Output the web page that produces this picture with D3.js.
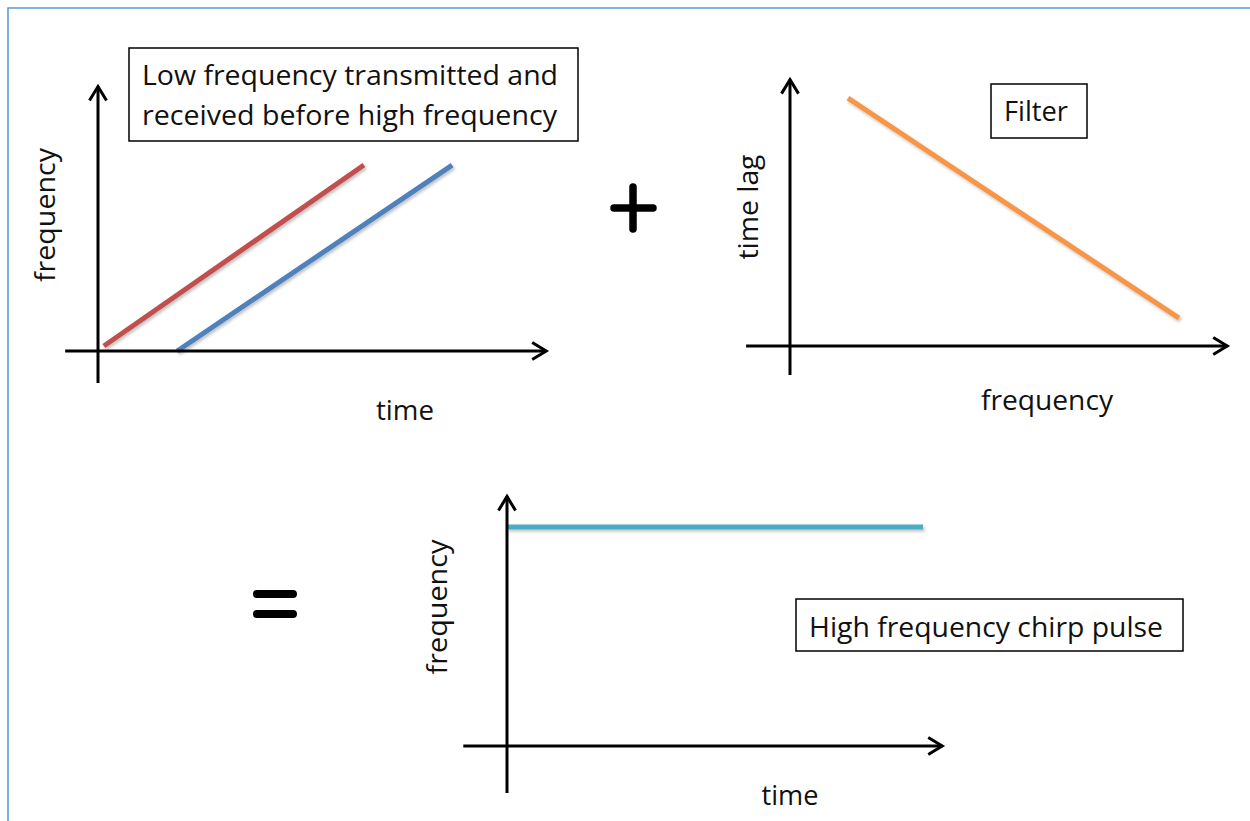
<!DOCTYPE html>
<html><head><meta charset="utf-8">
<script src="https://cdn.jsdelivr.net/npm/d3@7"></script>
<style>html,body{margin:0;padding:0;background:#fff;overflow:hidden}svg{display:block}</style>
</head><body><svg id="c" width="1250" height="821"></svg>
<script>
// ---------- DATA ----------
// Panel 1: frequency vs time (transmitted / received sweeps)
const transmittedTime = [1.3, 59.1];
const transmittedFreq = [1.9, 69.9];
const receivedTime = [17.6, 78.7];
const receivedFreq = [0, 69.9];
// Panel 2: filter time lag vs frequency
const filterFreq = [13.2, 88.6];
const filterLag = [92.5, 10.4];
// Panel 3: resulting chirp pulse
const chirpTime = [0, 95.2];
const chirpFreq = [87.3, 87.3];

const panelNames = ["sweep", "filter", "result"];
const xAxisLabels = ["time", "frequency", "time"];
const yAxisLabels = ["frequency", "time lag", "frequency"];
const boxLines = [
  ["Low frequency transmitted and", "received before high frequency"],
  ["Filter"],
  ["High frequency chirp pulse"]
];
const operators = ["+", "="];

// ---------- LAYOUT ----------
const layout = {
  sweep:  {x0: 98,  x1: 548,  y0: 351, y1: 85, xMin: -7.3, yMin: -12},
  filter: {x0: 790, x1: 1229, y0: 346, y1: 78, xMin: -10,  yMin: -10.8},
  result: {x0: 507, x1: 944,  y0: 746, y1: 495, xMin: -10, yMin: -18.7}
};
const xLabelPos = [{x: 405, y: 420, w: 58}, {x: 1047, y: 410, w: 132}, {x: 790, y: 805, w: 57}];
const yLabelPos = [{x: 55, y: 215, w: 134}, {x: 758, y: 207, w: 105}, {x: 447, y: 607, w: 135}];
const boxPos = [
  {x: 129, y: 48, w: 449, h: 93, tx: 142, ty: [85, 125], tw: [416, 415]},
  {x: 991, y: 84, w: 96, h: 54, tx: 1004, ty: [121], tw: [64]},
  {x: 796, y: 599, w: 387, h: 52, tx: 809, ty: [637], tw: [354]}
];

const svg = d3.select("#c");
const FONT = "'Open Sans', 'Liberation Sans', sans-serif";

const defs = svg.append("defs");
defs.append("marker").attr("id", "arr")
  .attr("viewBox", "-20 -12 24 24").attr("refX", 0).attr("refY", 0)
  .attr("markerWidth", 24).attr("markerHeight", 24)
  .attr("markerUnits", "userSpaceOnUse").attr("orient", "auto")
  .append("path").attr("d", "M-14,-8.5 L0,0 L-14,8.5")
  .attr("fill", "none").attr("stroke", "#000").attr("stroke-width", 3)
  .attr("stroke-linejoin", "miter");
const sh = defs.append("filter").attr("id", "sh").attr("filterUnits", "userSpaceOnUse")
  .attr("x", 0).attr("y", 0).attr("width", 1250).attr("height", 821);
sh.append("feDropShadow").attr("dx", 1.5).attr("dy", 2).attr("stdDeviation", 1.5)
  .attr("flood-color", "#000").attr("flood-opacity", 0.25);

// page border (light blue)
svg.append("path").attr("d", "M8,821 L8,8 L1250,8")
  .attr("fill", "none").attr("stroke", "#5b9bd5").attr("stroke-width", 1.6);

const series = {
  sweep: [
    {t: transmittedTime, v: transmittedFreq, color: "#c0504d"},
    {t: receivedTime, v: receivedFreq, color: "#4f81bd"}
  ],
  filter: [{t: filterFreq, v: filterLag, color: "#f79646"}],
  result: [{t: chirpTime, v: chirpFreq, color: "#4bacc6"}]
};

panelNames.forEach((name, i) => {
  const L = layout[name];
  const x = d3.scaleLinear().domain([0, 100]).range([L.x0, L.x1]);
  const y = d3.scaleLinear().domain([0, 100]).range([L.y0, L.y1]);
  const g = svg.append("g");
  const line = d3.line().x(d => x(d[0])).y(d => y(d[1]));

  // data lines
  series[name].forEach(s => {
    const pts = s.t.map((t, k) => [t, s.v[k]]);
    g.append("path").attr("d", line(pts)).attr("fill", "none")
      .attr("stroke", s.color).attr("stroke-width", 5).attr("filter", "url(#sh)");
  });

  // axes
  g.append("path").attr("d", line([[L.xMin, 0], [99.6, 0]]))
    .attr("stroke", "#000").attr("stroke-width", 3).attr("marker-end", "url(#arr)");
  g.append("path").attr("d", line([[0, L.yMin], [0, 99.4]]))
    .attr("stroke", "#000").attr("stroke-width", 3).attr("marker-end", "url(#arr)");

  // axis labels
  const xl = xLabelPos[i];
  g.append("text").attr("x", xl.x).attr("y", xl.y).attr("text-anchor", "middle")
    .attr("font-family", FONT).attr("font-size", 28).attr("fill", "#111")
    .attr("textLength", xl.w).attr("lengthAdjust", "spacingAndGlyphs")
    .text(xAxisLabels[i]);
  const yl = yLabelPos[i];
  g.append("text").attr("transform", `translate(${yl.x},${yl.y}) rotate(-90)`)
    .attr("text-anchor", "middle")
    .attr("font-family", FONT).attr("font-size", 28).attr("fill", "#111")
    .attr("textLength", yl.w).attr("lengthAdjust", "spacingAndGlyphs")
    .text(yAxisLabels[i]);

  // annotation box
  const b = boxPos[i];
  g.append("rect").attr("x", b.x).attr("y", b.y).attr("width", b.w).attr("height", b.h)
    .attr("fill", "#fff").attr("stroke", "#000").attr("stroke-width", 1.5);
  boxLines[i].forEach((t, k) => {
    g.append("text").attr("x", b.tx).attr("y", b.ty[k])
      .attr("font-family", FONT).attr("font-size", 28).attr("fill", "#111")
      .attr("textLength", b.tw[k]).attr("lengthAdjust", "spacingAndGlyphs")
      .text(t);
  });
});

// operators (+ and =) drawn as strokes
const opG = svg.append("g").attr("stroke", "#000").attr("stroke-linecap", "round").attr("fill", "none");
opG.append("path").attr("d", "M614,208 L653,208 M633,187 L633,229").attr("stroke-width", 7.5)
  .attr("data-op", operators[0]);
opG.append("path").attr("d", "M257,594 L293,594 M257,614 L293,614").attr("stroke-width", 8)
  .attr("data-op", operators[1]);
</script></body></html>
